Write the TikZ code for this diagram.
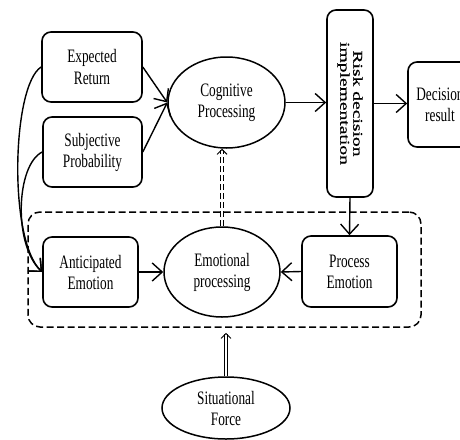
\documentclass[tikz,border=0pt]{standalone}
\usepackage{fontspec}
\usetikzlibrary{shapes.geometric,arrows.meta}
\newfontfamily\hfont[FakeStretch=0.7]{Liberation Serif}
\newfontfamily\rfont[FakeStretch=1.45,FakeBold=0.6]{Liberation Serif}
\begin{document}
\begin{tikzpicture}[x=1pt,y=-1pt,
  txt/.style={align=center,font=\hfont\fontsize{19}{21}\selectfont},
  rbox/.style={txt,draw,rounded corners=9pt,line width=1.6pt,inner sep=0pt},
  ell/.style={txt,ellipse,draw,line width=1.5pt,inner sep=0pt},
  arr/.style={line width=1.4pt,-{Straight Barb[length=10pt,width=18pt,line width=1.4pt]}},
  dbl/.style={double,double distance=2.6pt,line width=0.9pt,-{Straight Barb[length=5pt,width=10pt]}},
  grpbox/.style={draw,dashed,dash pattern=on 7pt off 3.5pt,line width=1.5pt,rounded corners=12pt,inner sep=0pt}]
\useasboundingbox (0,0) rectangle (460,439);
\clip (0,0) rectangle (460,439);
\fill[white] (0,0) rectangle (460,439);
% group box
\node[grpbox,minimum width=393pt,minimum height=115pt] (grp) at (224.5,269.5) {};
% nodes
\node[rbox,minimum width=100pt,minimum height=70pt] (er) at (92,67) {Expected\\Return};
\node[rbox,minimum width=99pt,minimum height=70pt] (sp) at (92.5,152) {Subjective\\Probability};
\node[rbox,minimum width=95pt,minimum height=70pt] (ae) at (90.5,272) {Anticipated\\Emotion};
\node[rbox,minimum width=95pt,minimum height=71pt] (pe) at (349.5,271.5) {Process\\Emotion};
\node[ell,minimum width=117pt,minimum height=91pt] (cog) at (226.5,102.5) {Cognitive\\Processing};
\node[ell,minimum width=116pt,minimum height=90pt] (emo) at (222,272) {Emotional\\processing};
\node[ell,minimum width=128pt,minimum height=62pt] (sit) at (226,408) {Situational\\Force};
\node[rbox,minimum width=46pt,minimum height=187pt] (risk) at (350,103.5) {};
\node[rotate=-90,align=center,inner sep=0pt,font=\rfont\fontsize{13.5}{13}\selectfont] (risklbl) at (risk.center) {Risk decision\\implementation};
\node[rbox,minimum width=64pt,minimum height=85pt] (dec) at (440,104.5) {Decision\\result};
% connectors
\draw[arr] (er.east) -- (cog.west);
\draw[arr] (sp.east) -- (cog.west);
\draw[arr] (cog.east) -- (cog.east -| risk.west);
\draw[arr] (risk.east) -- (risk.east -| dec.west);
\draw[arr] (risk.south) -- (pe.north);
\draw[arr] (pe.west) -- (emo.east);
\draw[arr] (ae.east) -- (emo.west);
\draw[arr] (er.west) .. controls (12,85) and (8,240) .. (ae.west);
\draw[arr] (sp.west) .. controls (16,165) and (13,245) .. (ae.west);
\draw[dbl,dash pattern=on 6pt off 3pt] (emo.north) -- (emo.north |- cog.south);
\draw[dbl] (sit.north) -- ([yshift=-5pt]sit.north |- grp.south);
\end{tikzpicture}
\end{document}
